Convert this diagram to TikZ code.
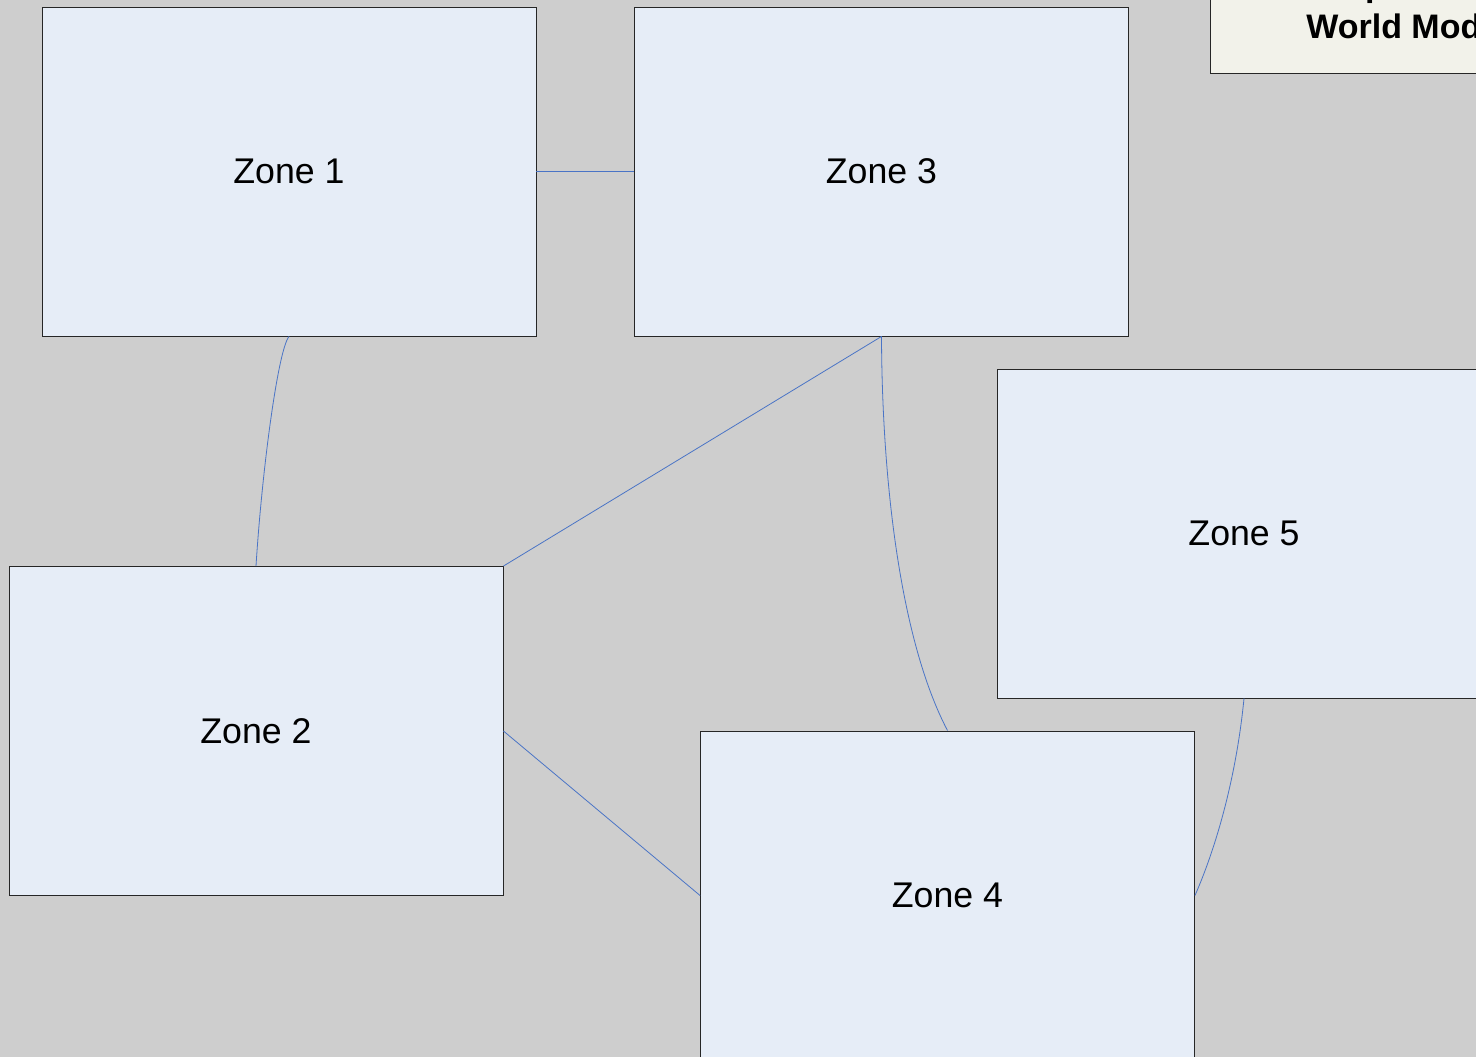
\documentclass[tikz,border=0pt]{standalone}
\usepackage{fontspec}
\setmainfont{Liberation Sans}
\definecolor{bggray}{HTML}{CECECE}
\definecolor{zonefill}{HTML}{E6EDF7}
\definecolor{titlefill}{HTML}{F2F2EA}
\definecolor{linkblue}{HTML}{4A74C6}
\definecolor{edgegray}{HTML}{262626}
\begin{document}
\begin{tikzpicture}[x=1pt,y=-1pt,
  zone/.style={draw=edgegray, line width=0.9pt, fill=zonefill, rectangle,
    minimum width=494pt, minimum height=329pt, inner sep=0pt,
    font=\fontsize{35.7}{40}\selectfont},
  titlebox/.style={draw=edgegray, line width=0.9pt, fill=titlefill, rectangle,
    minimum width=420pt, minimum height=140pt, inner sep=0pt},
  titletext/.style={font=\bfseries\fontsize{34}{38}\selectfont, inner sep=0pt, anchor=base},
  link/.style={draw=linkblue, line width=0.8pt}]
\useasboundingbox (0,0) rectangle (1476,1057);
\clip (0,0) rectangle (1476,1057);
\fill[bggray] (0,0) rectangle (1476,1057);
% title box
\node[titlebox] (title) at (1420,3) {};
\node[titletext] (titleA) at (1408,-3) {Top-Down};
\node[titletext] (titleB) at (1408,39) {World Model};
% zones
\node[zone] (z1) at (289,171.5) {Zone 1};
\node[zone] (z3) at (881.5,171.5) {Zone 3};
\node[zone] (z2) at (256,731) {Zone 2};
\node[zone] (z4) at (947.5,895.5) {Zone 4};
\node[zone] (z5) at (1244,533.5) {Zone 5};
% connectors
\draw[link] (z1.east) -- (z3.west);
\draw[link] (z1.south) .. controls (278,350) and (262,470) .. (z2.north);
\draw[link] (z3.south) -- (z2.north east);
\draw[link] (z3.south) .. controls (882,480) and (900,640) .. (z4.north);
\draw[link] (z2.east) -- (z4.west);
\draw[link] (z5.south) .. controls (1236,780) and (1215,850) .. (z4.east);
\end{tikzpicture}
\end{document}
